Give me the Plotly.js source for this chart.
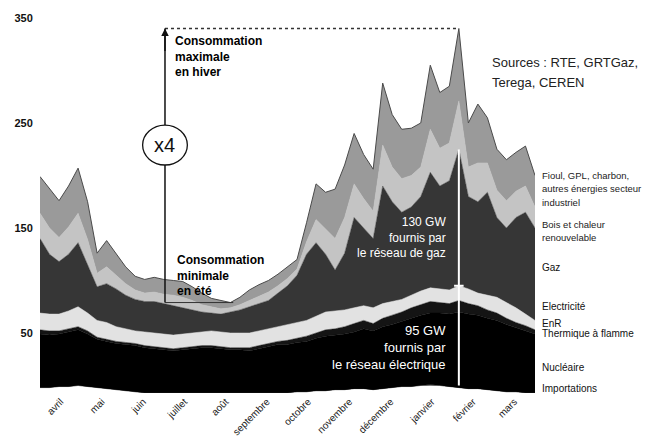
<!DOCTYPE html>
<html><head><meta charset="utf-8">
<script src="https://cdn.plot.ly/plotly-3.0.1.min.js"></script>
<style>html,body{margin:0;padding:0;background:#fff}#chart{width:646px;height:437px}</style>
</head><body><div id="chart"></div>
<script>
// Weekly demand, GW, from April to March
const months = ['avril','mai','juin','juillet','août','septembre','octobre','novembre','décembre','janvier','février','mars'];
const yTicks = [50,150,250,350];
const importations = [-2,-2,-1,-1,0,-1,-2,-3,-4,-5,-6,-7,-7,-7,-7,-7,-7,-7,-7,-7,-7,-7,-7,-7,-7,-7,-7,-6,-6,-5,-5,-4,-4,-3,-3,-4,-3,-2,-1,-1,0,1,0,-1,-2,-3,-3,-4,-5,-6,-6,-7,-7];
const nucleaire = [51,50,50,52,53,50,46,45,44,44,44,43,42,41,40,41,42,43,43,42,41,41,40,42,44,46,46,47,48,50,52,52,53,54,57,56,59,60,62,65,67,68,69,69,72,71,70,68,67,64,61,59,56];
const thermique = [4,4,3,3,3,3,2,2,2,2,2,2,2,2,2,2,2,2,2,2,2,2,3,3,3,3,4,4,5,5,6,6,7,8,8,7,8,9,9,10,10,11,10,10,11,10,9,8,7,6,5,5,4];
const enr = [16,16,16,17,19,17,16,16,14,13,12,13,13,13,13,13,13,13,14,14,14,14,14,14,14,14,15,15,15,16,17,17,16,15,14,15,14,13,12,12,13,13,13,13,14,14,12,14,15,15,14,11,9];
const gaz = [71,57,50,54,61,46,32,37,36,32,30,29,30,29,28,25,22,19,17,17,20,22,25,26,27,32,37,45,63,70,55,39,54,86,74,66,112,95,83,84,90,110,98,104,130,88,87,98,76,71,86,97,88];
const bois = [24,25,23,26,28,24,13,16,13,11,9,8,9,9,10,10,9,7,6,5,4,5,6,7,8,7,7,6,12,22,24,30,34,32,28,26,39,33,32,30,28,41,36,36,46,28,37,28,26,26,25,25,20];
const fioul = [35,38,35,39,43,36,19,25,20,16,13,13,14,14,14,15,13,11,8,8,5,7,10,11,11,11,11,9,18,34,35,47,50,48,42,40,59,50,47,45,42,61,53,54,69,42,56,43,39,39,37,38,30];

const weeks = importations.map((_, i) => i);
const nW = weeks.length - 1;
const monthPos = months.map((_, k) => (k + 0.5) * nW / months.length);

function layer(name, y, color, lineColor, lw) {
  return {x: weeks, y: y, name: name, type: 'scatter', mode: 'lines', stackgroup: 'one',
    fillcolor: color, line: {color: lineColor || color, width: lw || 0.5, shape: 'linear'},
    hoverinfo: 'skip'};
}
const data = [
  layer('Importations', importations, '#000000'),
  layer('Nucléaire', nucleaire, '#000000'),
  layer('Thermique à flamme', thermique, '#141414'),
  layer('EnR', enr, '#e2e2e2'),
  layer('Gaz', gaz, '#363636'),
  layer('Bois', bois, '#c4c4c4'),
  layer('Fioul', fioul, '#9a9a9a', '#4a4a4a', 1)
];

const peakIdx = gaz.indexOf(Math.max(...gaz));
const elecAtPeak = importations[peakIdx] + nucleaire[peakIdx] + thermique[peakIdx] + enr[peakIdx];
const gasTopAtPeak = elecAtPeak + gaz[peakIdx];
const totals = weeks.map(i => importations[i]+nucleaire[i]+thermique[i]+enr[i]+gaz[i]+bois[i]+fioul[i]);
const maxTot = Math.max(...totals), minTot = Math.min(...totals);
const maxIdx = totals.indexOf(maxTot);
const refX = 13.13;

const f = (size, color, extra) => Object.assign({family: 'Liberation Sans, Arial, sans-serif', size: size, color: color}, extra || {});
function ann(text, x, y, size, color, anchor, extra) {
  return Object.assign({text: text, x: x, y: y, xref: 'paper', yref: 'y', xanchor: anchor || 'left', yanchor: 'middle',
    align: anchor || 'left', showarrow: false, font: f(size, color)}, extra || {});
}
const L = 1.01;
const annotations = [
  ann('Fioul, GPL, charbon,', L, 200, 9.5, '#222'),
  ann('autres énergies secteur', L, 188, 9.5, '#222'),
  ann('industriel', L, 174, 9.5, '#222'),
  ann('Bois et chaleur', L, 153, 9.5, '#222'),
  ann('renouvelable', L, 141, 9.5, '#222'),
  ann('Gaz', L, 112, 10, '#111'),
  ann('Electricité', L, 75, 10, '#111'),
  ann('EnR', L, 59.5, 10, '#111'),
  ann('Thermique à flamme', L, 50, 10, '#111'),
  ann('Nucléaire', L, 16.7, 10, '#111'),
  ann('Importations', L, -3.3, 10, '#111'),
  ann('Sources : RTE, GRTGaz,', 0.909, 308, 13, '#222'),
  ann('Terega, CEREN', 0.909, 289, 13, '#222'),
  ann('Consommation<br>maximale<br>en hiver', 0.2687, 313.5, 12, '#000', 'left', {font: f(12, '#000', {weight: 'bold'})}),
  ann('Consommation<br>minimale<br>en été', 0.2727, 105, 12, '#000', 'left', {font: f(12, '#000', {weight: 'bold'})}),
  ann('130 GW<br>fournis par<br>le réseau de gaz', 0.8242, 140.5, 12, '#fff', 'right'),
  ann('95 GW<br>fournis par<br>le réseau électrique', 0.8242, 36.5, 13, '#fff', 'right'),
  {text: 'x4', x: refX, y: 229, xref: 'x', yref: 'y', showarrow: false, font: f(20, '#111'), xanchor: 'center', yanchor: 'middle'},
  {text: '', x: refX, y: maxTot, xref: 'x', yref: 'y', ax: 0, ay: 24, showarrow: true, arrowhead: 2, arrowsize: 1, arrowwidth: 1.5, arrowcolor: '#111'}
];

const shapes = [
  {type: 'line', xref: 'x', yref: 'y', x0: refX, x1: maxIdx, y0: maxTot, y1: maxTot, line: {color: '#333', width: 1.5, dash: 'dot'}, layer: 'above'},
  {type: 'line', xref: 'x', yref: 'y', x0: refX, x1: refX, y0: maxTot, y1: minTot, line: {color: '#111', width: 1.5}, layer: 'above'},
  {type: 'line', xref: 'x', yref: 'y', x0: refX, x1: 20.3, y0: minTot, y1: minTot, line: {color: '#333', width: 1}, layer: 'above'},
  {type: 'circle', xref: 'x', yref: 'y', x0: refX - 2.35, x1: refX + 2.35, y0: 210, y1: 248, fillcolor: '#fff', line: {color: '#111', width: 1.3}, layer: 'above'},
  {type: 'line', xref: 'x', yref: 'y', x0: peakIdx, x1: peakIdx, y0: 0, y1: gasTopAtPeak, line: {color: '#fff', width: 2}, layer: 'above'},
  {type: 'line', xref: 'x', yref: 'y', x0: peakIdx - 0.5, x1: peakIdx + 0.5, y0: elecAtPeak, y1: elecAtPeak, line: {color: '#fff', width: 2}, layer: 'above'}
];

const layout = {
  width: 646, height: 437,
  margin: {l: 40, r: 111, t: 8, b: 44},
  paper_bgcolor: '#fff', plot_bgcolor: '#fff',
  showlegend: false,
  xaxis: {range: [0, nW], tickvals: monthPos, ticktext: months, tickangle: -45,
    showgrid: false, zeroline: false, showline: false, ticks: '', tickfont: f(10, '#222')},
  yaxis: {range: [-7.14, 359.5], tickvals: yTicks, showgrid: false, zeroline: false, showline: false,
    ticks: 'outside', ticklen: 4, tickcolor: 'rgba(0,0,0,0)', tickfont: f(11, '#111', {weight: 'bold'})},
  annotations: annotations,
  shapes: shapes
};
Plotly.newPlot('chart', data, layout, {displayModeBar: false, staticPlot: true});
</script></body></html>
